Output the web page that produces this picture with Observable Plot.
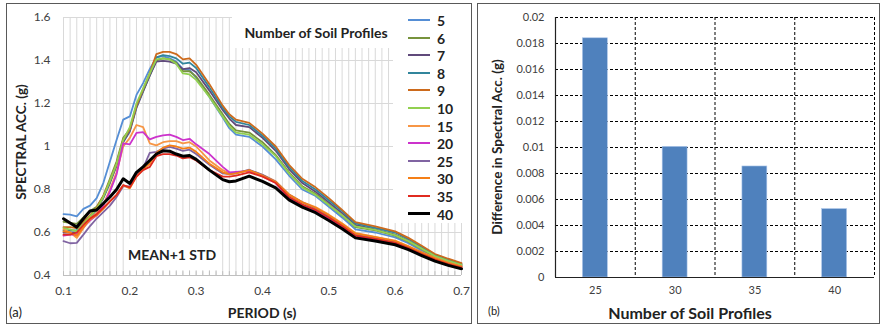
<!DOCTYPE html>
<html>
<head>
<meta charset="utf-8">
<script src="https://cdn.jsdelivr.net/npm/d3@7"></script>
<script src="https://cdn.jsdelivr.net/npm/@observablehq/plot@0.6"></script>
<style>
  html, body { margin: 0; padding: 0; background: #fff; }
  #fig { position: relative; width: 881px; height: 326px; overflow: hidden; font-family: Lato, "Open Sans", sans-serif; }
  .abs { position: absolute; }
  .c { transform: translate(-50%, -50%); white-space: nowrap; }
  .border { box-sizing: border-box; border: 1px solid #595959; }
  .mask { background: #fff; }
  .b { font-weight: bold; color: #222; }
  .leg-line { position: absolute; width: 22px; }
  .leg-lab { position: absolute; font-weight: bold; font-size: 14px; color: #222; transform: translateY(-50%); }
  svg { overflow: visible; }
</style>
</head>
<body>
<div id="fig"></div>
<script>
// ---------------- DATA ----------------
const periods = [0.10,0.11,0.12,0.13,0.14,0.15,0.16,0.17,0.18,0.19,0.20,0.21,0.22,0.23,0.24,0.25,0.26,0.27,0.28,0.29,0.30,0.32,0.34,0.35,0.36,0.38,0.40,0.42,0.44,0.46,0.48,0.50,0.52,0.54,0.57,0.60,0.62,0.64,0.66,0.68,0.70];

const profileNames = ["5","6","7","8","9","10","15","20","25","30","35","40"];

const s5  = [0.685,0.683,0.675,0.71,0.725,0.76,0.83,0.93,1.03,1.125,1.14,1.24,1.295,1.36,1.415,1.42,1.41,1.395,1.36,1.355,1.32,1.23,1.135,1.085,1.055,1.045,1.0,0.94,0.865,0.80,0.77,0.72,0.67,0.615,0.60,0.577,0.55,0.515,0.482,0.46,0.443];
const s6  = [0.65,0.645,0.64,0.67,0.70,0.72,0.77,0.85,0.93,1.04,1.08,1.19,1.26,1.33,1.40,1.41,1.405,1.39,1.35,1.35,1.325,1.24,1.15,1.105,1.075,1.065,1.02,0.96,0.88,0.815,0.78,0.73,0.68,0.625,0.61,0.585,0.557,0.522,0.487,0.465,0.447];
const s7  = [0.60,0.60,0.60,0.64,0.67,0.705,0.76,0.83,0.91,1.02,1.07,1.18,1.255,1.33,1.395,1.398,1.395,1.385,1.36,1.365,1.345,1.26,1.17,1.13,1.10,1.09,1.04,0.98,0.895,0.83,0.79,0.74,0.69,0.635,0.615,0.59,0.562,0.527,0.49,0.47,0.45];
const s8  = [0.61,0.61,0.61,0.645,0.675,0.71,0.765,0.835,0.915,1.025,1.075,1.185,1.26,1.335,1.415,1.425,1.42,1.41,1.385,1.39,1.365,1.275,1.18,1.14,1.115,1.10,1.05,0.99,0.905,0.84,0.80,0.75,0.70,0.643,0.622,0.60,0.57,0.533,0.496,0.474,0.454];
const s9  = [0.625,0.625,0.62,0.65,0.68,0.715,0.77,0.84,0.92,1.03,1.08,1.19,1.265,1.34,1.43,1.44,1.44,1.43,1.405,1.41,1.38,1.29,1.19,1.15,1.125,1.11,1.06,1.0,0.915,0.85,0.81,0.76,0.705,0.648,0.628,0.605,0.575,0.538,0.50,0.478,0.458];
const s10 = [0.62,0.615,0.605,0.64,0.675,0.71,0.765,0.84,0.92,1.03,1.09,1.20,1.27,1.34,1.405,1.41,1.405,1.385,1.34,1.335,1.31,1.23,1.14,1.095,1.065,1.055,1.01,0.955,0.875,0.81,0.775,0.728,0.68,0.628,0.612,0.588,0.56,0.525,0.49,0.468,0.449];
const s15 = [0.615,0.60,0.575,0.62,0.665,0.69,0.73,0.80,0.88,1.0,1.04,1.10,1.09,1.015,1.005,1.02,1.025,1.025,1.015,1.02,1.0,0.935,0.89,0.875,0.878,0.888,0.868,0.838,0.778,0.742,0.718,0.683,0.643,0.598,0.58,0.562,0.537,0.509,0.482,0.46,0.443];
const s20 = [0.585,0.59,0.59,0.625,0.655,0.68,0.725,0.79,0.87,1.015,1.01,1.063,1.067,1.033,1.045,1.052,1.055,1.045,1.03,1.036,1.01,0.965,0.905,0.88,0.882,0.887,0.862,0.83,0.76,0.728,0.70,0.665,0.625,0.58,0.568,0.55,0.525,0.498,0.472,0.452,0.436];
const s25 = [0.56,0.55,0.552,0.59,0.63,0.665,0.695,0.725,0.765,0.815,0.815,0.87,0.90,0.97,0.975,0.99,0.998,0.99,0.98,0.985,0.965,0.915,0.875,0.872,0.875,0.892,0.868,0.836,0.775,0.74,0.712,0.675,0.636,0.59,0.575,0.557,0.532,0.505,0.478,0.456,0.44];
const s30 = [0.605,0.60,0.585,0.625,0.66,0.68,0.71,0.745,0.775,0.82,0.805,0.86,0.895,0.92,0.97,0.995,1.005,1.0,0.99,0.995,0.975,0.92,0.88,0.87,0.875,0.89,0.865,0.835,0.775,0.74,0.715,0.68,0.64,0.595,0.578,0.56,0.535,0.507,0.48,0.458,0.441];
const s35 = [0.59,0.59,0.60,0.635,0.665,0.685,0.715,0.745,0.775,0.82,0.81,0.86,0.89,0.905,0.955,0.965,0.965,0.958,0.945,0.95,0.935,0.89,0.86,0.86,0.865,0.88,0.86,0.83,0.765,0.73,0.705,0.67,0.63,0.585,0.57,0.552,0.528,0.50,0.474,0.453,0.437];
const s40 = [0.664,0.644,0.625,0.664,0.70,0.705,0.735,0.765,0.80,0.85,0.828,0.88,0.905,0.935,0.965,0.98,0.978,0.965,0.955,0.958,0.94,0.89,0.846,0.836,0.84,0.862,0.838,0.808,0.752,0.718,0.692,0.656,0.617,0.575,0.56,0.543,0.52,0.493,0.467,0.447,0.431];

const seriesValues = [s5, s6, s7, s8, s9, s10, s15, s20, s25, s30, s35, s40];
const seriesColors = ["#558ed5","#77933c","#604a7b","#31859c","#cc6a1c","#92d050","#f79646","#cc33cc","#8064a2","#f57f17","#e02b20","#000000"];

const xTicksA = [0.1,0.2,0.3,0.4,0.5,0.6,0.7];
const xTickLabelsA = ["0.1","0.2","0.3","0.4","0.5","0.6","0.7"];
const yTicksA = [0.4,0.6,0.8,1.0,1.2,1.4,1.6];
const yTickLabelsA = ["0.4","0.6","0.8","1","1.2","1.4","1.6"];

// Panel (b)
const barCategories = [25, 30, 35, 40];
const barCategoryLabels = ["25","30","35","40"];
const barValues = [0.01840, 0.01005, 0.00854, 0.00526];
const yTicksB = [0,0.002,0.004,0.006,0.008,0.01,0.012,0.014,0.016,0.018,0.02];
const yTickLabelsB = ["0","0.002","0.004","0.006","0.008","0.01","0.012","0.014","0.016","0.018","0.02"];

// ---------------- BUILD ----------------
const fig = document.getElementById("fig");
function el(tag, cls, style, text) {
  const e = document.createElement(tag);
  if (cls) e.className = cls;
  Object.assign(e.style, style);
  if (text != null) e.textContent = text;
  fig.appendChild(e);
  return e;
}

const tidy = [];
profileNames.forEach((name, si) => {
  seriesValues[si].forEach((v, i) => tidy.push({profiles: name, period: periods[i], acc: v}));
});
const thin = tidy.filter(d => d.profiles !== "40");
const thick = tidy.filter(d => d.profiles === "40");

const minorGrid = d3.range(10, 71).map(k => k / 100);

// Panel borders
el("div", "abs border", {left: "6px", top: "3px", width: "466px", height: "321px"});
el("div", "abs border", {left: "477px", top: "3px", width: "403px", height: "321px"});

const left = Plot.plot({
  width: 470, height: 326,
  marginLeft: 63, marginRight: 9, marginTop: 17, marginBottom: 51,
  style: {fontFamily: "Lato, 'Open Sans', sans-serif", fontSize: "12px", color: "#404040", background: "transparent", overflow: "visible"},
  x: {domain: [0.1, 0.7]},
  y: {domain: [0.4, 1.6]},
  color: {domain: profileNames, range: seriesColors},
  marks: [
    Plot.gridX(minorGrid, {stroke: "#d9d9d9", strokeOpacity: 1}),
    Plot.gridY(yTicksA.slice(1), {stroke: "#d9d9d9", strokeOpacity: 1}),
    Plot.ruleX(minorGrid, {y1: 0.4, y2: 0.418, stroke: "#bfbfbf"}),
    Plot.ruleY([0.4], {stroke: "#bfbfbf"}),
    Plot.axisX(xTicksA, {tickSize: 0, tickPadding: 11, tickFormat: d => xTickLabelsA[xTicksA.indexOf(d)], label: null}),
    Plot.axisY(yTicksA, {tickSize: 0, tickPadding: 13, tickFormat: d => yTickLabelsA[yTicksA.indexOf(d)], label: null}),
    Plot.line(thin, {x: "period", y: "acc", z: "profiles", stroke: "profiles", strokeWidth: 1.8, curve: "linear"}),
    Plot.line(thick, {x: "period", y: "acc", z: "profiles", stroke: "profiles", strokeWidth: 3})
  ]
});
const lw = document.createElement("div");
lw.className = "abs"; lw.style.left = "0px"; lw.style.top = "0px";
lw.appendChild(left);
fig.appendChild(lw);

// masks (text backgrounds in panel a)
el("div", "abs mask", {left: "232px", top: "16px", width: "161px", height: "32px"});
el("div", "abs mask", {left: "393px", top: "16px", width: "74px", height: "207px"});
el("div", "abs mask", {left: "127px", top: "239px", width: "91px", height: "31px"});

// panel a texts
el("div", "abs c b", {left: "316px", top: "32px", fontSize: "14px"}, "Number of Soil Profiles");
el("div", "abs c b", {left: "172px", top: "254px", fontSize: "14px"}, "MEAN+1 STD");
el("div", "abs c b", {left: "262px", top: "312px", fontSize: "14px"}, "PERIOD (s)");
el("div", "abs b", {left: "21px", top: "142px", fontSize: "13.5px", transform: "translate(-50%,-50%) rotate(-90deg)", whiteSpace: "nowrap"}, "SPECTRAL ACC. (g)");
el("div", "abs", {left: "9px", top: "312px", fontSize: "13px", color: "#222", transform: "translateY(-50%)"}, "(a)");

// legend
profileNames.forEach((name, i) => {
  const y = 20 + i * 17.6;
  const w = name === "40" ? 3 : 2;
  el("div", "leg-line", {left: "408px", top: (y - w / 2) + "px", height: w + "px", background: seriesColors[i]});
  el("div", "leg-lab", {left: "437px", top: y + "px"}, name);
});

// ---------------- Panel (b) ----------------
const bars = barCategories.map((c, i) => ({n: c, diff: barValues[i]}));
const boundaries = barCategories.map(c => c + 2.5);
const right = Plot.plot({
  width: 411, height: 326,
  marginLeft: 85, marginRight: 7, marginTop: 17, marginBottom: 49,
  style: {fontFamily: "Lato, 'Open Sans', sans-serif", fontSize: "11px", color: "#404040", background: "transparent", overflow: "visible"},
  x: {domain: [22.5, 42.5]},
  y: {domain: [0, 0.02]},
  marks: [
    Plot.gridY(yTicksB.slice(1), {stroke: "#000", strokeOpacity: 1, strokeDasharray: "3,2"}),
    Plot.gridX(boundaries, {stroke: "#000", strokeOpacity: 1, strokeDasharray: "3,2"}),
    Plot.rectY(bars, {x1: d => d.n - 0.78, x2: d => d.n + 0.78, y: "diff", fill: "#4f81bd", stroke: "#a9c4e8", strokeWidth: 0.6}),
    Plot.ruleY([0], {stroke: "#222", strokeWidth: 1.2}),
    Plot.ruleX([22.5], {stroke: "#222", strokeWidth: 1.2}),
    Plot.axisY(yTicksB, {tickSize: 0, tickPadding: 11, tickFormat: d => yTickLabelsB[yTicksB.indexOf(d)], label: null}),
    Plot.axisX(barCategories, {tickSize: 0, tickPadding: 9, tickFormat: d => barCategoryLabels[barCategories.indexOf(d)], label: null})
  ]
});
const rw = document.createElement("div");
rw.className = "abs"; rw.style.left = "470px"; rw.style.top = "0px";
rw.appendChild(right);
fig.appendChild(rw);

el("div", "abs c b", {left: "690px", top: "312px", fontSize: "16px"}, "Number of Soil Profiles");
el("div", "abs b", {left: "497px", top: "147px", fontSize: "13.5px", transform: "translate(-50%,-50%) rotate(-90deg)", whiteSpace: "nowrap"}, "Difference in Spectral Acc. (g)");
el("div", "abs", {left: "488px", top: "310px", fontSize: "11px", color: "#222", transform: "translateY(-50%)"}, "(b)");
</script>
</body>
</html>
